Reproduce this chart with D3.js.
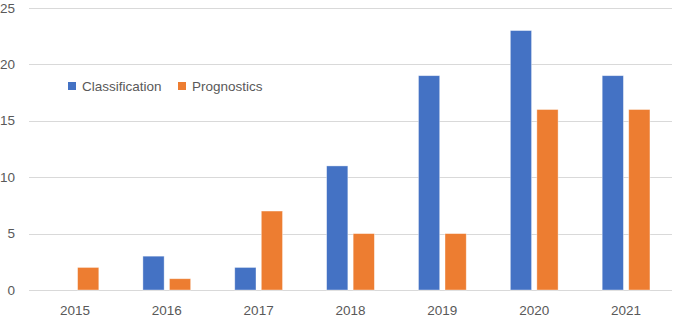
<!DOCTYPE html>
<html>
<head>
<meta charset="utf-8">
<script src="https://cdn.jsdelivr.net/npm/d3@7"></script>
<style>
  html, body { margin: 0; padding: 0; background: #fff; }
  #chart { width: 677px; height: 319px; }
</style>
</head>
<body>
<div id="chart"></div>
<script>
const years = ["2015", "2016", "2017", "2018", "2019", "2020", "2021"];
const classification = [0, 3, 2, 11, 19, 23, 19];
const prognostics = [2, 1, 7, 5, 5, 16, 16];
const yTicks = [0, 5, 10, 15, 20, 25];
const seriesNames = ["Classification", "Prognostics"];
const seriesColors = ["#4472C4", "#ED7D31"];

(function() {
  const width = 677, height = 319;
  const margin = { top: 8, right: 5, bottom: 29, left: 29 };
  const font = "'Liberation Sans', Arial, sans-serif";

  const svg = d3.select("#chart").append("svg")
    .attr("width", width)
    .attr("height", height);

  const x = d3.scaleBand()
    .domain(years)
    .range([margin.left, width - margin.right])
    .paddingInner(0.48)
    .paddingOuter(0.24);

  const x1 = d3.scaleBand()
    .domain(seriesNames)
    .range([0, x.bandwidth()])
    .paddingInner(0.2);

  const y = d3.scaleLinear()
    .domain([0, 25])
    .range([height - margin.bottom, margin.top]);

  // gridlines
  svg.append("g")
    .selectAll("line")
    .data(yTicks)
    .join("line")
    .attr("x1", margin.left)
    .attr("x2", width - margin.right)
    .attr("y1", d => Math.round(y(d)) + 0.5)
    .attr("y2", d => Math.round(y(d)) + 0.5)
    .attr("stroke", "#d9d9d9")
    .attr("stroke-width", 1);

  // y labels
  svg.append("g")
    .selectAll("text")
    .data(yTicks)
    .join("text")
    .attr("x", 15)
    .attr("y", d => y(d) + 4.5)
    .attr("text-anchor", "end")
    .style("font-family", font)
    .style("font-size", "13.5px")
    .style("fill", "#595959")
    .text(d => d);

  // x labels
  svg.append("g")
    .selectAll("text")
    .data(years)
    .join("text")
    .attr("x", d => x(d) + x.bandwidth() / 2)
    .attr("y", 315)
    .attr("text-anchor", "middle")
    .style("font-family", font)
    .style("font-size", "13.5px")
    .style("fill", "#595959")
    .text(d => d);

  const rows = years.map((yr, i) => ({ year: yr, vals: [classification[i], prognostics[i]] }));

  svg.append("g")
    .selectAll("g")
    .data(rows)
    .join("g")
    .attr("transform", d => `translate(${x(d.year)},0)`)
    .selectAll("rect")
    .data(d => d.vals.map((v, j) => ({ name: seriesNames[j], value: v, color: seriesColors[j] })))
    .join("rect")
    .filter(d => d.value > 0)
    .attr("x", d => x1(d.name))
    .attr("y", d => y(d.value))
    .attr("width", x1.bandwidth())
    .attr("height", d => y(0) - y(d.value))
    .attr("fill", d => d.color)
    .attr("stroke", "#ffffff")
    .attr("stroke-opacity", 0.5)
    .attr("stroke-width", 0.75);

  // legend
  const legend = svg.append("g").attr("transform", "translate(68,86)");
  const offsets = [0, 110];
  seriesNames.forEach((name, i) => {
    const g = legend.append("g").attr("transform", `translate(${offsets[i]},0)`);
    g.append("rect")
      .attr("x", 0).attr("y", -4)
      .attr("width", 8).attr("height", 8)
      .attr("fill", seriesColors[i]);
    g.append("text")
      .attr("x", 14).attr("y", 4.5)
      .style("font-family", font)
      .style("font-size", "13.5px")
      .style("fill", "#595959")
      .text(name);
  });
})();
</script>
</body>
</html>
